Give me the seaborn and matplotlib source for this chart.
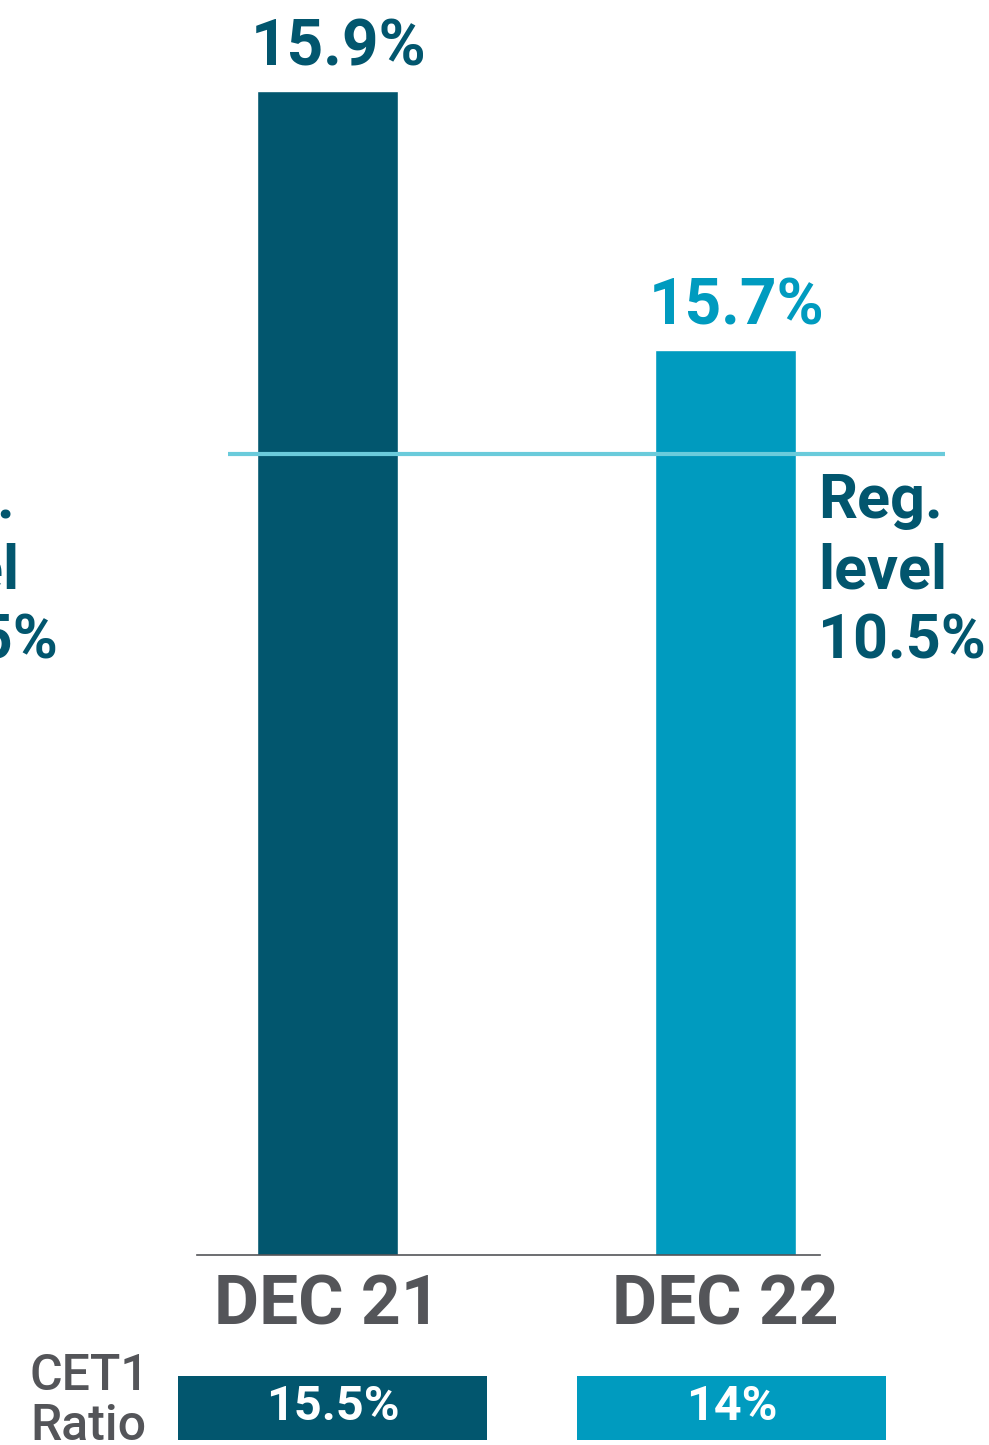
import matplotlib
matplotlib.use("Agg")
import matplotlib.pyplot as plt
from matplotlib.patches import Rectangle
import seaborn as sns
import pandas as pd

# Data
periods = ["DEC 21", "DEC 22"]
capital_ratio = [15.9, 15.7]
cet1_ratio = [15.5, 14.0]
reg_level = 10.5

# Colours
DARK = "#02566E"
CYAN = "#009BBF"
LINE = "#6ACBDB"
GREY = "#545559"
bar_colors = [DARK, CYAN]

sns.set_theme(style="white")
plt.rcParams["font.family"] = ["Roboto", "DejaVu Sans"]

W, H = 989, 1445
fig = plt.figure(figsize=(W / 100, H / 100), dpi=100)

# Main bar axes: bottom spine acts as the baseline
ax = fig.add_axes([197 / W, (H - 1255) / H, 623 / W, 1164 / H])
df = pd.DataFrame({"period": periods, "ratio": capital_ratio})
sns.barplot(data=df, x="period", y="ratio", hue="period", palette=bar_colors,
            legend=False, width=0.354, saturation=1, ax=ax)
ax.set_xlim(-0.328, 1.2375)
ax.set_ylim(15.0, 15.9)
ax.set_xlabel("")
ax.set_ylabel("")
ax.set_yticks([])
for s in ["left", "right", "top"]:
    ax.spines[s].set_visible(False)
ax.spines["bottom"].set_color(GREY)
ax.spines["bottom"].set_linewidth(1.2)
ax.tick_params(axis="x", length=0, pad=13, labelsize=50, labelcolor=GREY)
for lbl in ax.get_xticklabels():
    lbl.set_fontweight("bold")

# Value labels above the bars
for i, (v, c) in enumerate(zip(capital_ratio, bar_colors)):
    ax.annotate(f"{v:.1f}%", xy=(i, v), xytext=(8, 9), textcoords="offset points",
                ha="center", va="bottom", fontsize=46, fontweight="bold",
                color=c, annotation_clip=False)

# Regulatory level line on its own zero-based scale
ax2 = ax.twinx()
ax2.set_ylim(0, 15.25)
ax2.set_yticks([])
for s in ax2.spines.values():
    s.set_visible(False)
ax2.hlines(reg_level, -0.25, 1.551, color=LINE, linewidth=3, clip_on=False, zorder=5)

reg_text = f"Reg.\nlevel\n{reg_level:.1f}%"
for x_px in (818, -110):
    fig.text(x_px / W, (H - 472) / H, reg_text, ha="left", va="top", fontsize=44,
             fontweight="bold", color=DARK, linespacing=1.27)

# CET1 ratio strip
fig.text(30 / W, (H - 1352) / H, "CET1\nRatio", ha="left", va="top", fontsize=36,
         fontweight="medium", color=GREY, linespacing=1.05)
box_left = [178, 577]
for x0, v, c in zip(box_left, cet1_ratio, bar_colors):
    fig.patches.append(Rectangle((x0 / W, (H - 1440) / H), 309 / W, 64 / H,
                                 transform=fig.transFigure, facecolor=c,
                                 edgecolor="none"))
    txt = f"{v:g}%"
    fig.text((x0 + 154.5) / W, (H - 1407) / H, txt, ha="center", va="center",
             fontsize=35, fontweight="bold", color="white")

fig.savefig("out.png", dpi=100, facecolor="white")
